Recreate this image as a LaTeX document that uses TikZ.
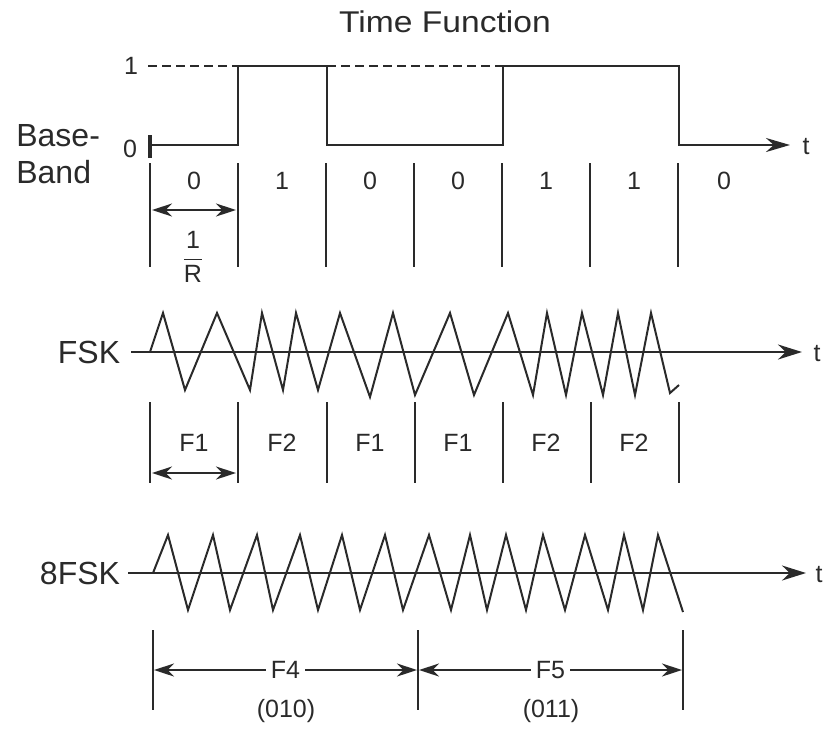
\documentclass[tikz,border=0pt]{standalone}
\usepackage{fontspec}
\usepackage{amsmath}
\usepackage{tikz}
\usetikzlibrary{arrows.meta, positioning}
\setmainfont{Liberation Sans}
\definecolor{ink}{HTML}{2A2A2A}

\begin{document}
\begin{tikzpicture}[x=1pt, y=-1pt, >={Stealth[length=20pt, width=13pt]}, color=ink, line width=2pt,
  biglabel/.style={font=\fontsize{32}{38}\selectfont},
  bitlabel/.style={font=\fontsize{25}{30}\selectfont},
  sep/.style={line width=2pt}]
  \useasboundingbox (0,0) rectangle (827,729);

  % Titulek
  \node[font=\fontsize{30}{36}\selectfont, xscale=1.12] (title) at (445,22) {Time Function};

  % Base-band (NRZ)
  \node[biglabel, align=left, anchor=west, font=\fontsize{32}{37}\selectfont] (bb) at (12,154) {Base-\\Band};
  \node[bitlabel] (one) at (131,66) {1};
  \node[bitlabel] (zero) at (130,149) {0};
  \draw[line width=3.5pt] (150,135) -- (150,158);
  \draw[dash pattern=on 9pt off 5pt] (148,66) -- (238,66);
  \draw[dash pattern=on 9pt off 5pt] (327,66) -- (503,66);
  \draw[->, >={Stealth[length=24pt, width=14pt]}, line width=2.4pt, line join=miter] (150,145) -- (238,145)
    -- (238,66) -- (327,66) -- (327,145) -- (503,145) -- (503,66) -- (679,66) -- (679,145) -- (790,145);
  \node[bitlabel] (tbb) at (806,147) {t};

  % Bitove intervaly
  \draw[sep] (150,163) -- (150,267);
  \draw[sep] (238,163) -- (238,267);
  \draw[sep] (326,163) -- (326,267);
  \draw[sep] (414,163) -- (414,267);
  \draw[sep] (502,163) -- (502,267);
  \draw[sep] (590,163) -- (590,267);
  \draw[sep] (678,163) -- (678,267);
  \node[bitlabel] (bit1) at (194,181) {0};
  \node[bitlabel] (bit2) at (282,181) {1};
  \node[bitlabel] (bit3) at (370,181) {0};
  \node[bitlabel] (bit4) at (458,181) {0};
  \node[bitlabel] (bit5) at (546,181) {1};
  \node[bitlabel] (bit6) at (634,181) {1};
  \node[bitlabel] (bit7) at (724,181) {0};
  \draw[<->] (152,210) -- (236,210);
  \node[bitlabel] (rate) at (193,257) {$\dfrac{\text{1}}{\text{R}}$};

  % FSK
  \node[biglabel] (fsk) at (89,352) {FSK};
  \draw[->, >={Stealth[length=24pt, width=15pt]}, line width=2.4pt] (131,352) -- (802,352);
  \node[bitlabel] (tfsk) at (817,354) {t};
  \draw[line join=miter] (150,352) -- (163,313) -- (185,390) -- (217,313) -- (250,390) -- (262,313) -- (283,390)
    -- (296,313) -- (318,390) -- (340,313) -- (370,397) -- (393,313) -- (415,395) -- (450,313) -- (474,395)
    -- (508,313) -- (533,395) -- (547,313) -- (566,395) -- (582,313) -- (603,395) -- (618,313) -- (635,395)
    -- (651,313) -- (670,393) -- (679,385);
  \draw[sep] (150,402) -- (150,483);
  \draw[sep] (238,402) -- (238,483);
  \draw[sep] (327,402) -- (327,483);
  \draw[sep] (415,402) -- (415,483);
  \draw[sep] (503,402) -- (503,483);
  \draw[sep] (591,402) -- (591,483);
  \draw[sep] (679,402) -- (679,483);
  \node[bitlabel] (f1a) at (194,443) {F1};
  \node[bitlabel] (f2a) at (282,443) {F2};
  \node[bitlabel] (f1b) at (370,443) {F1};
  \node[bitlabel] (f1c) at (458,443) {F1};
  \node[bitlabel] (f2b) at (546,443) {F2};
  \node[bitlabel] (f2c) at (634,443) {F2};
  \draw[<->] (152,473) -- (236,473);

  % 8FSK
  \node[biglabel] (efsk) at (80,573) {8FSK};
  \draw[->, >={Stealth[length=24pt, width=15pt]}, line width=2.4pt] (128,573) -- (806,573);
  \node[bitlabel] (tefsk) at (819,575) {t};
  \draw[line join=miter] (153,573) -- (168,535) -- (188,610) -- (213,535) -- (230,610) -- (257,535) -- (273,610)
    -- (300,535) -- (318,610) -- (342,535) -- (360,610) -- (385,535) -- (403,610) -- (429,535) -- (451,610)
    -- (470,535) -- (487,610) -- (506,535) -- (526,610) -- (543,535) -- (565,610) -- (585,535) -- (608,610)
    -- (624,535) -- (643,610) -- (658,535) -- (683,612);
  \draw[sep] (153,630) -- (153,710);
  \draw[sep] (418,630) -- (418,710);
  \draw[sep] (683,630) -- (683,710);
  \draw[<->] (154,670) -- (417,670) node[midway, fill=white, bitlabel, inner sep=5pt] (f4) {F4};
  \draw[<->] (419,670) -- (682,670) node[midway, fill=white, bitlabel, inner sep=5pt] (f5) {F5};
  \node[font=\fontsize{25}{28}\selectfont] (c4) at (286,711) {(010)};
  \node[font=\fontsize{25}{28}\selectfont] (c5) at (551,711) {(011)};
\end{tikzpicture}
\end{document}
